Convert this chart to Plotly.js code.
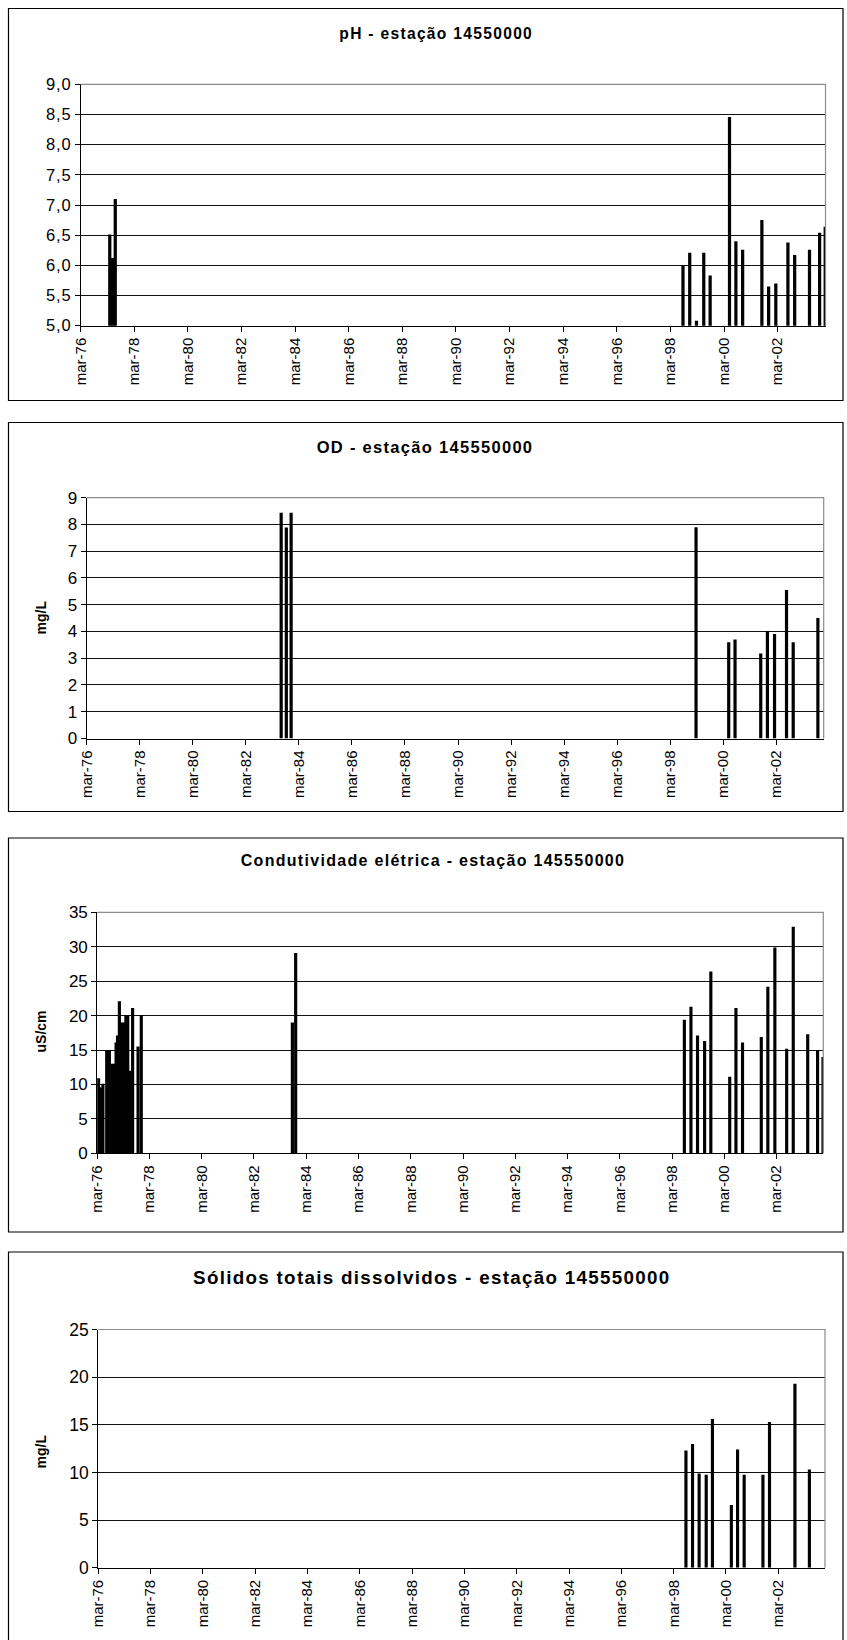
<!DOCTYPE html>
<html>
<head>
<meta charset="utf-8">
<script src="https://cdn.plot.ly/plotly-3.0.1.min.js"></script>
<style>
  html, body { margin: 0; padding: 0; background: #ffffff; }
  #chart { width: 847px; height: 1640px; }
  .panel-title { letter-spacing: 1.3px; }
  .ytick text { letter-spacing: 0.8px; }
</style>
</head>
<body>
<div id="chart"></div>
<script>
// ---- Measured series (sampling date, value) ----
const phDates = ['1977-04-01', '1977-05-10', '1977-06-15',
  '1998-08-20', '1998-11-20', '1999-02-20', '1999-05-30', '1999-08-25',
  '2000-05-15', '2000-08-10', '2000-11-10', '2001-07-30', '2001-10-30',
  '2002-02-05', '2002-07-20', '2002-10-20', '2003-05-10', '2003-09-25', '2003-12-10'];
const phValues = [6.51, 6.12, 7.10,
  6.00, 6.21, 5.08, 6.21, 5.83,
  8.46, 6.40, 6.26, 6.75, 5.65,
  5.70, 6.38, 6.17, 6.26, 6.54, 6.64];

const odDates = ['1983-07-01', '1983-09-10', '1983-11-15',
  '1999-02-20', '2000-05-15', '2000-08-10', '2001-07-30', '2001-10-30',
  '2002-02-05', '2002-07-20', '2002-10-20', '2003-09-25'];
const odValues = [8.44, 7.89, 8.44,
  7.90, 3.60, 3.70, 3.18, 4.02,
  3.91, 5.55, 3.60, 4.50];

const condDates = ['1976-03-20', '1976-04-22', '1976-05-20', '1976-07-12', '1976-08-18',
  '1976-09-24', '1976-10-27', '1976-11-20', '1976-12-10', '1977-01-05', '1977-02-06',
  '1977-03-08', '1977-04-06', '1977-05-02', '1977-05-30', '1977-07-09', '1977-09-23',
  '1977-11-07',
  '1983-08-20', '1983-10-05',
  '1998-08-20', '1998-11-20', '1999-02-20', '1999-05-30', '1999-08-25',
  '2000-05-15', '2000-08-10', '2000-11-10', '2001-07-30', '2001-10-30',
  '2002-02-05', '2002-07-20', '2002-10-20', '2003-05-10', '2003-09-25', '2003-12-10'];
const condValues = [10.9, 9.6, 10.1, 15.0, 15.0,
  13.0, 13.0, 16.1, 17.1, 22.1, 19.0,
  19.0, 20.0, 20.0, 12.0, 21.1, 15.5,
  20.0,
  19.0, 29.1,
  19.4, 21.3, 17.1, 16.3, 26.4,
  11.1, 21.1, 16.1, 16.9, 24.2,
  29.9, 15.2, 32.9, 17.3, 15.0, 14.0];

const stdDates = ['1998-08-20', '1998-11-20', '1999-02-20', '1999-05-30', '1999-08-25',
  '2000-05-15', '2000-08-10', '2000-11-10', '2001-07-30', '2001-10-30',
  '2002-10-20', '2003-05-10'];
const stdValues = [12.3, 13.0, 9.9, 9.75, 15.6,
  6.6, 12.4, 9.75, 9.75, 15.3,
  19.3, 10.3];

// ---- Axis labels ----
const tickDates = ['1976-03-01', '1978-03-01', '1980-03-01', '1982-03-01', '1984-03-01',
  '1986-03-01', '1988-03-01', '1990-03-01', '1992-03-01', '1994-03-01',
  '1996-03-01', '1998-03-01', '2000-03-01', '2002-03-01'];
const tickLabels = ['mar-76', 'mar-78', 'mar-80', 'mar-82', 'mar-84', 'mar-86', 'mar-88',
  'mar-90', 'mar-92', 'mar-94', 'mar-96', 'mar-98', 'mar-00', 'mar-02'];

const titles = ['pH - estação 14550000', 'OD - estação 145550000',
  'Condutividade elétrica - estação 145550000', 'Sólidos totais dissolvidos - estação 145550000'];
const unitLabels = ['', 'mg/L', 'uS/cm', 'mg/L'];

// ---- Page geometry (pixels) ----
const W = 847, H = 1640;
const FONT = 'Liberation Sans, Arial, sans-serif';
const panels = [
  { frame: [8.5, 8.5, 843, 400.5],  plot: [80.7, 84.3, 825.5, 325.7],  title: [436, 33],   unit: [40.5, 205],
    yrange: [5, 9], dtick: 0.5, fmt: '.1f', titleSize: 15.6, xTick: 15, yTick: 16.5 },
  { frame: [8.5, 422.5, 843, 811.5], plot: [86.7, 497.7, 823.7, 738.5], title: [425, 447],  unit: [40.5, 618],
    yrange: [0, 9], dtick: 1, fmt: 'd', titleSize: 16.5, xTick: 15, yTick: 17 },
  { frame: [8.5, 838, 843, 1232],   plot: [97.2, 912.3, 823.3, 1153.3], title: [433, 860], unit: [40.5, 1032],
    yrange: [0, 35], dtick: 5, fmt: 'd', titleSize: 16, xTick: 15, yTick: 17 },
  { frame: [8.5, 1252, 843, 1650],  plot: [98.3, 1329.5, 825, 1567.8], title: [432, 1277], unit: [40.5, 1452],
    yrange: [0, 25], dtick: 5, fmt: 'd', titleSize: 18.8, xTick: 15, yTick: 17.5 }
];
const series = [[phDates, phValues], [odDates, odValues], [condDates, condValues], [stdDates, stdValues]];

const px = x => x / W;
const py = y => 1 - y / H;
const DAY = 86400000;
const xRange = ['1976-03-01', '2003-12-14'];

const data = [];
const layout = {
  width: W, height: H,
  margin: { l: 0, r: 0, t: 0, b: 0 },
  paper_bgcolor: '#ffffff', plot_bgcolor: '#ffffff',
  separators: ',.',
  showlegend: false,
  font: { family: FONT, color: '#000000', size: 14 },
  shapes: [], annotations: []
};

panels.forEach((p, i) => {
  const n = i === 0 ? '' : String(i + 1);
  const xa = 'x' + n, ya = 'y' + n;
  data.push({
    type: 'bar', x: series[i][0], y: series[i][1],
    xaxis: xa, yaxis: ya,
    width: 44 * DAY,
    marker: { color: '#000000', line: { width: 0 } },
    hoverinfo: 'skip'
  });
  layout['xaxis' + n] = {
    type: 'date', range: xRange, anchor: ya,
    domain: [px(p.plot[0]), px(p.plot[2])],
    tickmode: 'array', tickvals: tickDates, ticktext: tickLabels,
    tickangle: -90, ticks: 'outside', ticklen: 5, tickcolor: '#000000',
    showline: true, linecolor: '#000000', linewidth: 1,
    showgrid: false, zeroline: false, fixedrange: true,
    tickfont: { family: FONT, size: p.xTick, color: '#000000' }
  };
  layout['yaxis' + n] = {
    range: p.yrange, dtick: p.dtick, tick0: 0, tickformat: p.fmt, anchor: xa,
    domain: [py(p.plot[3]), py(p.plot[1])],
    ticks: 'outside', ticklen: 5, tickcolor: '#000000',
    showline: true, linecolor: '#000000', linewidth: 1,
    showgrid: true, gridcolor: '#111111', gridwidth: 1,
    zeroline: false, fixedrange: true,
    tickfont: { family: FONT, size: p.yTick, color: '#000000' }
  };
  // chart-area border
  layout.shapes.push({
    type: 'rect', xref: 'paper', yref: 'paper', layer: 'below',
    x0: px(p.frame[0]), x1: px(p.frame[2]), y0: py(p.frame[3]), y1: py(p.frame[1]),
    line: { color: '#000000', width: 1.2 }, fillcolor: 'rgba(0,0,0,0)'
  });
  // grey top and right edges of the plot area
  layout.shapes.push({
    type: 'path', xref: xa + ' domain', yref: ya + ' domain', layer: 'above',
    path: 'M0,1 L1,1 L1,0',
    line: { color: '#8c8c8c', width: 1.2 }
  });
  layout.annotations.push({
    xref: 'paper', yref: 'paper', x: px(p.title[0]), y: py(p.title[1]),
    xanchor: 'center', yanchor: 'middle', showarrow: false,
    text: '<b>' + titles[i] + '</b>',
    font: { family: FONT, size: p.titleSize, color: '#000000' },
    captureevents: false
  });
  if (unitLabels[i]) {
    layout.annotations.push({
      xref: 'paper', yref: 'paper', x: px(p.unit[0]), y: py(p.unit[1]),
      xanchor: 'center', yanchor: 'middle', showarrow: false, textangle: -90,
      text: '<b>' + unitLabels[i] + '</b>',
      font: { family: FONT, size: 14, color: '#000000' }
    });
  }
});

Plotly.newPlot('chart', data, layout, { staticPlot: true, displayModeBar: false }).then(() => {
  // widen the tracking of the panel titles
  document.querySelectorAll('.annotation-text').forEach(t => {
    if (t.textContent.indexOf('estação') >= 0) t.classList.add('panel-title');
  });
});
</script>
</body>
</html>
